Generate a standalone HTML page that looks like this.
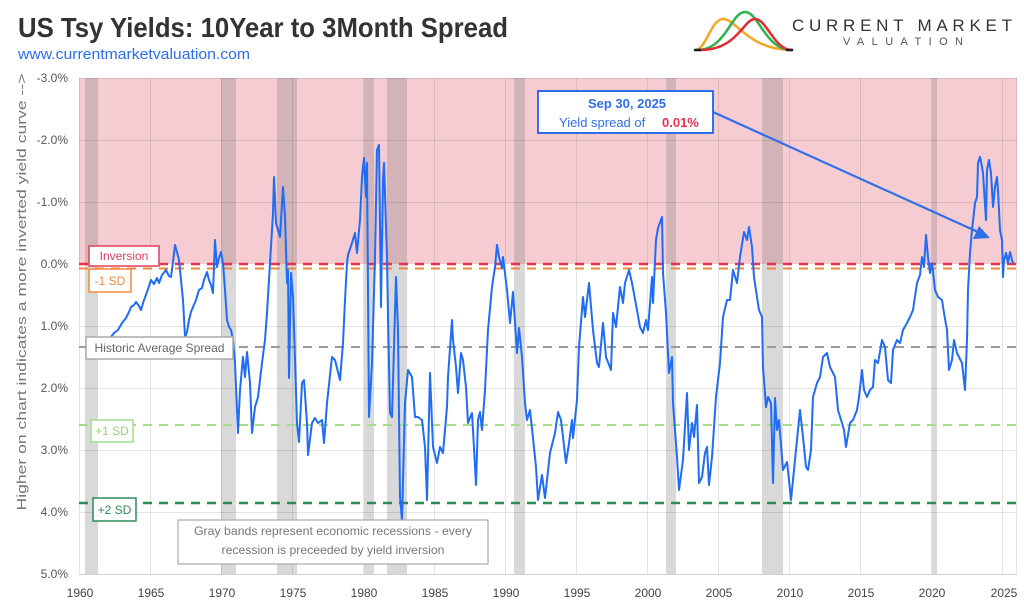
<!DOCTYPE html>
<html>
<head>
<meta charset="utf-8">
<style>
html,body{margin:0;padding:0;background:#fff;}
svg{display:block;}
text{font-family:"Liberation Sans",sans-serif;}
</style>
</head>
<body>
<svg width="1024" height="610" viewBox="0 0 1024 610" xmlns="http://www.w3.org/2000/svg">
<rect x="0" y="0" width="1024" height="610" fill="#ffffff"/>

<!-- Title -->
<text x="18" y="37" font-size="28" font-weight="bold" fill="#333" textLength="490" lengthAdjust="spacingAndGlyphs">US Tsy Yields: 10Year to 3Month Spread</text>
<text x="18" y="59" font-size="15" fill="#2a6ef0" textLength="232" lengthAdjust="spacingAndGlyphs">www.currentmarketvaluation.com</text>

<!-- Logo -->
<g fill="none" stroke-width="2.5" stroke-linecap="round">
  <path d="M695,50 C706,50 711,19 723,19 C736,19 748,49 790,50" stroke="#f5a623"/>
  <path d="M697,50 C726,50 731,12 745,12 C759,12 765,50 792,50" stroke="#2db34a"/>
  <path d="M700,50 C738,50 743,19 755,19 C767,19 774,50 792,50" stroke="#e8282f"/>
  <path d="M695,50 L700,50 M787,50 L792,50" stroke="#222"/>
</g>
<text x="792" y="31" font-size="17" fill="#333" textLength="220" lengthAdjust="spacing">CURRENT MARKET</text>
<text x="843" y="45" font-size="11" fill="#555" textLength="120" lengthAdjust="spacing">VALUATION</text>

<!-- Plot backgrounds -->
<rect x="79" y="78" width="938" height="186" fill="#f5ccd1"/>

<!-- Recession bands -->
<g fill="rgba(120,120,120,0.28)">
  <rect x="85" y="78" width="13" height="496"/>
  <rect x="221" y="78" width="15" height="496"/>
  <rect x="277" y="78" width="20" height="496"/>
  <rect x="364" y="78" width="10" height="496"/>
  <rect x="387" y="78" width="20" height="496"/>
  <rect x="514" y="78" width="11" height="496"/>
  <rect x="666" y="78" width="10" height="496"/>
  <rect x="762" y="78" width="21" height="496"/>
  <rect x="932" y="78" width="5" height="496"/>
</g>

<!-- Grid -->
<g stroke="rgba(0,0,0,0.1)" stroke-width="1">
  <line x1="79" y1="78.5" x2="1017" y2="78.5"/>
  <line x1="79" y1="140.5" x2="1017" y2="140.5"/>
  <line x1="79" y1="202.5" x2="1017" y2="202.5"/>
  <line x1="79" y1="326.5" x2="1017" y2="326.5"/>
  <line x1="79" y1="388.5" x2="1017" y2="388.5"/>
  <line x1="79" y1="450.5" x2="1017" y2="450.5"/>
  <line x1="79" y1="512.5" x2="1017" y2="512.5"/>
  <line x1="79.5" y1="78" x2="79.5" y2="574"/>
  <line x1="150.5" y1="78" x2="150.5" y2="574"/>
  <line x1="221.5" y1="78" x2="221.5" y2="574"/>
  <line x1="292.5" y1="78" x2="292.5" y2="574"/>
  <line x1="363.5" y1="78" x2="363.5" y2="574"/>
  <line x1="434.5" y1="78" x2="434.5" y2="574"/>
  <line x1="505.5" y1="78" x2="505.5" y2="574"/>
  <line x1="576.5" y1="78" x2="576.5" y2="574"/>
  <line x1="647.5" y1="78" x2="647.5" y2="574"/>
  <line x1="718.5" y1="78" x2="718.5" y2="574"/>
  <line x1="789.5" y1="78" x2="789.5" y2="574"/>
  <line x1="860.5" y1="78" x2="860.5" y2="574"/>
  <line x1="931.5" y1="78" x2="931.5" y2="574"/>
  <line x1="1002.5" y1="78" x2="1002.5" y2="574"/>
  <line x1="1016.5" y1="78" x2="1016.5" y2="574"/>
</g>
<line x1="79" y1="574.5" x2="1017" y2="574.5" stroke="#d0d0d0" stroke-width="1"/>

<!-- Dashed reference lines -->
<g fill="none" stroke-dasharray="9,7">
  <line x1="79" y1="264" x2="1017" y2="264" stroke="#e8324c" stroke-width="2.5"/>
  <line x1="79" y1="268.5" x2="1017" y2="268.5" stroke="#f0883a" stroke-width="2"/>
  <line x1="79" y1="347" x2="1017" y2="347" stroke="#9a9a9a" stroke-width="2"/>
  <line x1="79" y1="425" x2="1017" y2="425" stroke="#a6dc8a" stroke-width="2"/>
  <line x1="79" y1="503" x2="1017" y2="503" stroke="#2e8b57" stroke-width="2.5"/>
</g>

<!-- Data line -->
<polyline fill="none" stroke="#1f6cf5" stroke-width="2" stroke-linejoin="round" points="
111,337 114,333 118,330 122,323 126,318 129,312 131,307 134,305 136,302 139,306 141,310 144,300 147,292 151,280 154,284 157,278 159,283 162,275 166,270 169,276 171,277 173,262 175,245 177,252 179,260 181,280 183,300 185,337 187,332 189,320 191,312 193,307 196,300 199,290 202,288 204,280 207,272 209,280 211,285 213,293 215,240 217,267 219,258 221,252 223,263 225,290 227,320 229,327 231,330 233,340 235,363 237,410 238,433 240,390 243,357 245,377 247,352 250,383 252,433 255,407 258,397 262,363 265,340 267,313 270,263 273,213 274,177 276,223 278,230 280,237 283,187 285,217 287,283 288,270 289,378 291,273 293,297 295,360 297,423 299,442 302,383 304,380 307,423 308,455 312,423 315,418 318,423 322,420 324,443 327,403 332,357 335,360 340,380 343,343 345,300 347,263 348,255 352,243 355,233 357,253 360,220 362,177 364,158 366,197 367,163 368,290 369,417 372,363 375,257 377,150 379,145 381,307 383,180 384,163 387,257 388,317 390,413 392,417 396,277 398,330 400,497 402,520 405,403 408,370 412,377 415,417 418,417 422,420 425,447 427,500 430,373 433,447 437,463 440,447 443,453 447,407 448,377 452,320 453,340 456,367 458,393 461,353 463,360 466,387 468,423 472,413 473,430 476,485 478,420 480,412 482,430 485,390 488,330 492,287 495,267 497,245 499,257 502,268 503,257 507,290 510,323 513,292 517,353 519,328 522,357 525,403 527,420 530,410 533,438 536,467 538,500 542,475 545,498 550,453 555,433 558,412 561,420 563,437 566,463 569,443 572,420 573,438 577,400 579,347 583,297 585,317 589,283 593,330 597,363 599,367 603,323 606,357 611,370 613,313 616,327 620,287 623,303 625,283 629,270 632,283 637,310 640,327 643,333 646,320 648,330 652,277 653,303 656,240 658,228 662,217 663,273 666,313 669,373 672,357 673,403 677,457 679,490 683,460 687,393 689,450 692,423 694,437 697,405 699,483 702,477 705,453 707,447 709,485 712,457 716,397 720,363 723,317 727,300 730,300 733,270 737,283 740,257 744,232 747,240 749,227 752,247 754,277 757,297 759,310 762,317 763,367 766,407 768,397 771,403 773,483 775,398 777,430 779,420 783,470 787,462 789,480 791,500 793,480 797,440 800,410 803,437 806,467 808,470 811,450 813,397 817,383 820,377 823,357 827,353 830,367 835,377 838,410 842,423 844,430 846,447 850,423 853,420 857,410 859,397 862,370 864,390 867,397 870,390 873,387 875,360 878,363 882,340 885,347 888,380 891,383 893,350 897,340 900,343 903,330 907,323 910,317 913,310 917,283 920,275 922,257 924,267 926,235 928,257 930,273 932,263 935,290 938,297 942,300 944,313 947,330 949,370 952,360 954,340 957,353 959,357 962,363 965,390 967,340 968,290 970,253 972,230 975,203 977,197 978,163 980,157 982,167 983,173 986,220 987,170 989,160 991,173 993,207 995,187 997,177 998,190 1000,230 1002,240 1003,277 1004,260 1006,253 1008,263 1010,252 1012,260 1013,263"/>

<!-- Y axis labels -->
<g font-size="12" fill="#555" text-anchor="end">
  <text x="68" y="82">-3.0%</text>
  <text x="68" y="144">-2.0%</text>
  <text x="68" y="206">-1.0%</text>
  <text x="68" y="268">0.0%</text>
  <text x="68" y="330">1.0%</text>
  <text x="68" y="392">2.0%</text>
  <text x="68" y="454">3.0%</text>
  <text x="68" y="516">4.0%</text>
  <text x="68" y="578">5.0%</text>
</g>

<!-- X axis labels -->
<g font-size="12" fill="#444" text-anchor="middle">
  <text x="80" y="597">1960</text>
  <text x="151" y="597">1965</text>
  <text x="222" y="597">1970</text>
  <text x="293" y="597">1975</text>
  <text x="364" y="597">1980</text>
  <text x="435" y="597">1985</text>
  <text x="506" y="597">1990</text>
  <text x="577" y="597">1995</text>
  <text x="648" y="597">2000</text>
  <text x="719" y="597">2005</text>
  <text x="790" y="597">2010</text>
  <text x="861" y="597">2015</text>
  <text x="932" y="597">2020</text>
  <text x="1004" y="597">2025</text>
</g>

<!-- Y axis title -->
<text transform="translate(26,292) rotate(-90)" font-size="13" fill="#777" text-anchor="middle" textLength="437" lengthAdjust="spacingAndGlyphs">Higher on chart indicates a more inverted yield curve --&gt;</text>

<!-- Line labels -->
<rect x="89" y="246" width="70" height="20" fill="#fff" stroke="#e0405a" stroke-width="1.5"/>
<text x="124" y="260" font-size="12" fill="#e0405a" text-anchor="middle">Inversion</text>
<rect x="89" y="269" width="42" height="23" fill="#fff" stroke="#f08a3c" stroke-width="1.5"/>
<text x="110" y="285" font-size="12" fill="#f08a3c" text-anchor="middle">-1 SD</text>
<rect x="86" y="337" width="147" height="22" fill="#fff" stroke="#aaa" stroke-width="1.5"/>
<text x="159.5" y="352" font-size="12" fill="#666" text-anchor="middle" textLength="130" lengthAdjust="spacingAndGlyphs">Historic Average Spread</text>
<rect x="91" y="420" width="42" height="22" fill="#fff" stroke="#a6dc8a" stroke-width="1.5"/>
<text x="112" y="435" font-size="12" fill="#94d478" text-anchor="middle">+1 SD</text>
<rect x="93" y="498" width="43" height="23" fill="#fff" stroke="#2e8b57" stroke-width="1.5"/>
<text x="114.5" y="514" font-size="12" fill="#2e8b57" text-anchor="middle">+2 SD</text>

<!-- Annotation box -->
<rect x="178" y="520" width="310" height="44" fill="#fff" stroke="#aaa" stroke-width="1.2"/>
<text x="333" y="535" font-size="12" fill="#777" text-anchor="middle" textLength="278" lengthAdjust="spacingAndGlyphs">Gray bands represent economic recessions - every</text>
<text x="333" y="554" font-size="12" fill="#777" text-anchor="middle" textLength="223" lengthAdjust="spacingAndGlyphs">recession is preceeded by yield inversion</text>

<!-- Callout arrow -->
<line x1="713" y1="112" x2="978" y2="232" stroke="#2f6fea" stroke-width="2.2"/>
<polygon points="990,238 973,239 979,226" fill="#2f6fea"/>

<!-- Callout box -->
<rect x="538" y="91" width="175" height="42" fill="#fff" stroke="#2f6fea" stroke-width="2"/>
<text x="627" y="108" font-size="13" font-weight="bold" fill="#2f6fea" text-anchor="middle">Sep 30, 2025</text>
<text x="559" y="127" font-size="13" fill="#2f6fea">Yield spread of</text>
<text x="662" y="127" font-size="13" font-weight="bold" fill="#e8324c">0.01%</text>
</svg>
</body>
</html>
